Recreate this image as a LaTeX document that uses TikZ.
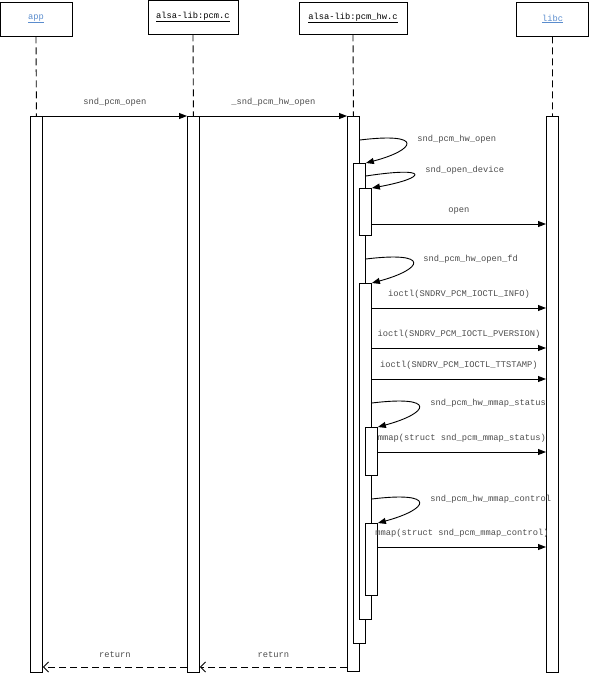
\documentclass[tikz,border=0pt]{standalone}
\usepackage{fontspec}
\setmonofont{Liberation Mono}
\usepackage{xcolor}
\usepackage{tikz}
\usetikzlibrary{positioning, arrows.meta}
\definecolor{linkblue}{RGB}{90,140,205}
\tikzset{
  hdr/.style={rectangle, draw, line width=0.9pt, inner sep=0pt,
              font=\ttfamily\fontsize{8.75}{10}\selectfont},
  act/.style={rectangle, draw, fill=white, line width=0.9pt, inner sep=0pt,
              minimum width=12pt, anchor=north west},
  lane/.style={line width=0.9pt, dash pattern=on 7pt off 4pt},
  msg/.style={-{Triangle[length=8pt,width=6pt]}, line width=0.9pt},
  ret/.style={-{Straight Barb[length=5pt,width=10pt]}, line width=0.9pt, dash pattern=on 7pt off 4pt},
  lbl/.style={font=\ttfamily\fontsize{8.75}{10}\selectfont, text=black!70, inner sep=0pt}
}

\begin{document}
\begin{tikzpicture}[x=1pt, y=-1pt]
  \useasboundingbox (0,0) rectangle (589,673);
  % Headers
  \node[hdr, minimum width=72pt, minimum height=34pt] (app) at (36,19) {\textcolor{linkblue}{\underline{app}}};
  \node[hdr, minimum width=90pt, minimum height=34pt] (pcm) at (193,17) {\underline{alsa-lib:pcm.c}};
  \node[hdr, minimum width=108pt, minimum height=32pt] (hw) at (353,18) {\underline{alsa-lib:pcm\_hw.c}};
  \node[hdr, minimum width=72pt, minimum height=34pt] (libc) at (552.5,19) {\textcolor{linkblue}{\underline{libc}}};
  % Activation bars
  \node[act, minimum height=556pt] (appb) at (30,116) {};
  \node[act, minimum height=556pt] (pcmb) at (187,116) {};
  \node[act, minimum height=555pt] (hw1) at (347,116) {};
  \node[act, minimum height=480pt] (hw2) at (353,163) {};
  \node[act, minimum height=47pt] (hw3) at (359,188) {};
  \node[act, minimum height=336pt] (hw4) at (359,283) {};
  \node[act, minimum height=48pt] (hw5) at (365,427) {};
  \node[act, minimum height=72pt] (hw6) at (365,523) {};
  \node[act, minimum height=556pt] (libcb) at (546,116) {};
  % Lifelines
  \draw[lane] (app.south) -- (appb.north);
  \draw[lane] (pcm.south) -- (pcmb.north);
  \draw[lane] (hw.south) -- (hw1.north);
  \draw[lane] (libc.south) -- (libcb.north);
  % Calls
  \draw[msg] (appb.east |- 0,116) -- node[lbl, above=9pt] (m1) {snd\_pcm\_open} (pcmb.west |- 0,116);
  \draw[msg] (pcmb.east |- 0,116) -- node[lbl, above=9pt] (m2) {\_snd\_pcm\_hw\_open} (hw1.west |- 0,116);
  \draw[msg] (hw1.east |- 0,140) .. controls +(65,-8) and +(50,-13) .. (hw2.north east)
    node[lbl, anchor=west] (s1) at (417,139) {snd\_pcm\_hw\_open};
  \draw[msg] (hw2.east |- 0,176) .. controls +(65,-10) and +(55,-10) .. (hw3.north east)
    node[lbl, anchor=west] (s2) at (425,170) {snd\_open\_device};
  \draw[msg] (hw3.east |- 0,224) -- node[lbl, above=9pt] (m3) {open} (libcb.west |- 0,224);
  \draw[msg] (hw2.east |- 0,259) .. controls +(65,-8) and +(52,-14) .. (hw4.north east)
    node[lbl, anchor=west] (s3) at (423,259) {snd\_pcm\_hw\_open\_fd};
  \draw[msg] (hw4.east |- 0,308) -- node[lbl, above=9pt] (m4) {ioctl(SNDRV\_PCM\_IOCTL\_INFO)} (libcb.west |- 0,308);
  \draw[msg] (hw4.east |- 0,348) -- node[lbl, above=9pt] (m5) {ioctl(SNDRV\_PCM\_IOCTL\_PVERSION)} (libcb.west |- 0,348);
  \draw[msg] (hw4.east |- 0,379) -- node[lbl, above=9pt] (m6) {ioctl(SNDRV\_PCM\_IOCTL\_TTSTAMP)} (libcb.west |- 0,379);
  \draw[msg] (hw4.east |- 0,403) .. controls +(65,-8) and +(52,-14) .. (hw5.north east)
    node[lbl, anchor=west] (s4) at (430,403) {snd\_pcm\_hw\_mmap\_status};
  \draw[msg] (hw5.east |- 0,452) -- node[lbl, above=9pt] (m7) {mmap(struct snd\_pcm\_mmap\_status)} (libcb.west |- 0,452);
  \draw[msg] (hw4.east |- 0,499) .. controls +(65,-8) and +(52,-14) .. (hw6.north east)
    node[lbl, anchor=west] (s5) at (430,499) {snd\_pcm\_hw\_mmap\_control};
  \draw[msg] (hw6.east |- 0,547) -- node[lbl, above=9pt] (m8) {mmap(struct snd\_pcm\_mmap\_control)} (libcb.west |- 0,547);
  % Returns
  \draw[ret] (hw1.west |- 0,667) -- node[lbl, above=9pt] (r1) {return} (pcmb.east |- 0,667);
  \draw[ret] (pcmb.west |- 0,667) -- node[lbl, above=9pt] (r2) {return} (appb.east |- 0,667);
\end{tikzpicture}
\end{document}
